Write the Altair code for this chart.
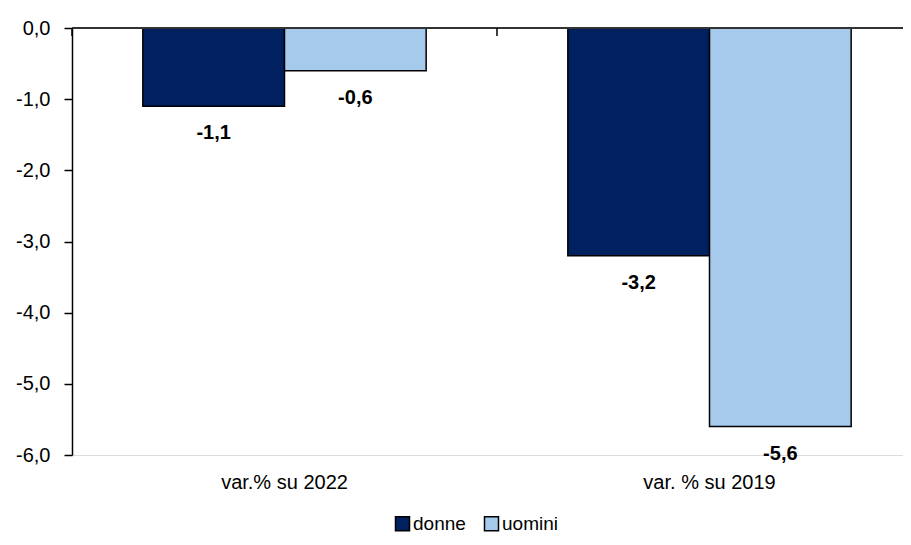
import altair as alt
import pandas as pd

categories = ["var.% su 2022", "var. % su 2019"]
series = ["donne", "uomini"]
donne = [-1.1, -3.2]
uomini = [-0.6, -5.6]
y_ticks = [0, -1, -2, -3, -4, -5, -6]
colors = ["#002060", "#A6CAEC"]

rows = []
for i, c in enumerate(categories):
    rows.append({"cat": c, "sesso": "donne", "val": donne[i]})
    rows.append({"cat": c, "sesso": "uomini", "val": uomini[i]})
df = pd.DataFrame(rows)
cat_df = pd.DataFrame({"cat": categories})
zero_df = pd.DataFrame({"z": [0]})

fmt_axis = "(datum.value < 0 ? '-' : '') + replace(format(abs(datum.value), '.1f'), '.', ',')"
fmt_lab = "(datum.val < 0 ? '-' : '') + replace(format(abs(datum.val), '.1f'), '.', ',')"

FONT = "Liberation Sans"

x_scale = alt.Scale(domain=categories, range=[0, 850], paddingInner=0, paddingOuter=0)
xo = alt.XOffset("sesso:N", sort=series, scale=alt.Scale(paddingInner=0, paddingOuter=0.5))
y_scale = alt.Scale(domain=[-6, 0], nice=False)

x_enc = alt.X(
    "cat:N", sort=categories, scale=x_scale,
    axis=alt.Axis(orient="bottom", title=None, domain=False, ticks=False, labelAngle=0,
                  labelFontSize=20, labelPadding=17, labelColor="black", labelFont=FONT),
)
y_enc = alt.Y(
    "val:Q", scale=y_scale,
    axis=alt.Axis(title=None, values=y_ticks, labelExpr=fmt_axis, grid=False,
                  domainColor="black", domainWidth=1.5, tickColor="black", tickWidth=1.5,
                  tickSize=8, labelPadding=14, labelFontSize=20, labelColor="black", labelFont=FONT),
)

bars = alt.Chart(df).mark_bar(stroke="black", strokeWidth=1.5).encode(
    x=x_enc,
    xOffset=xo,
    y=y_enc,
    color=alt.Color(
        "sesso:N", sort=series, scale=alt.Scale(domain=series, range=colors),
        legend=alt.Legend(title=None, orient="none", direction="horizontal", legendX=321, legendY=486,
                          symbolType="square", symbolSize=196, symbolStrokeColor="black",
                          symbolStrokeWidth=1.5, labelFontSize=19, labelFont=FONT, labelColor="black",
                          columnPadding=15, labelOffset=1),
    ),
)

labels = alt.Chart(df).transform_calculate(lab=fmt_lab).mark_text(
    dy=27, baseline="middle", align="center", fontWeight="bold", fontSize=20, font=FONT, color="black"
).encode(
    x=alt.X("cat:N", sort=categories, scale=x_scale),
    xOffset=xo,
    y=alt.Y("val:Q", scale=y_scale),
    text="lab:N",
)

zero_line = alt.Chart(zero_df).mark_rule(color="#333333", strokeWidth=2).encode(
    y=alt.Y("z:Q", scale=y_scale),
)

tick_marks = alt.Chart(cat_df).mark_rule(color="black", strokeWidth=1.5).encode(
    x=alt.X("cat:N", sort=categories, scale=x_scale, bandPosition=0),
    y=alt.value(0),
    y2=alt.value(8),
)

chart = alt.layer(bars, labels, zero_line, tick_marks).properties(
    width=831, height=427,
    autosize=alt.AutoSizeParams(type="none"),
    padding={"left": 64, "top": 20, "right": 0, "bottom": 82},
    background="white",
).configure_view(stroke=None).configure(font=FONT)

chart.save("out.html", embed_options={"renderer": "svg", "actions": False})
